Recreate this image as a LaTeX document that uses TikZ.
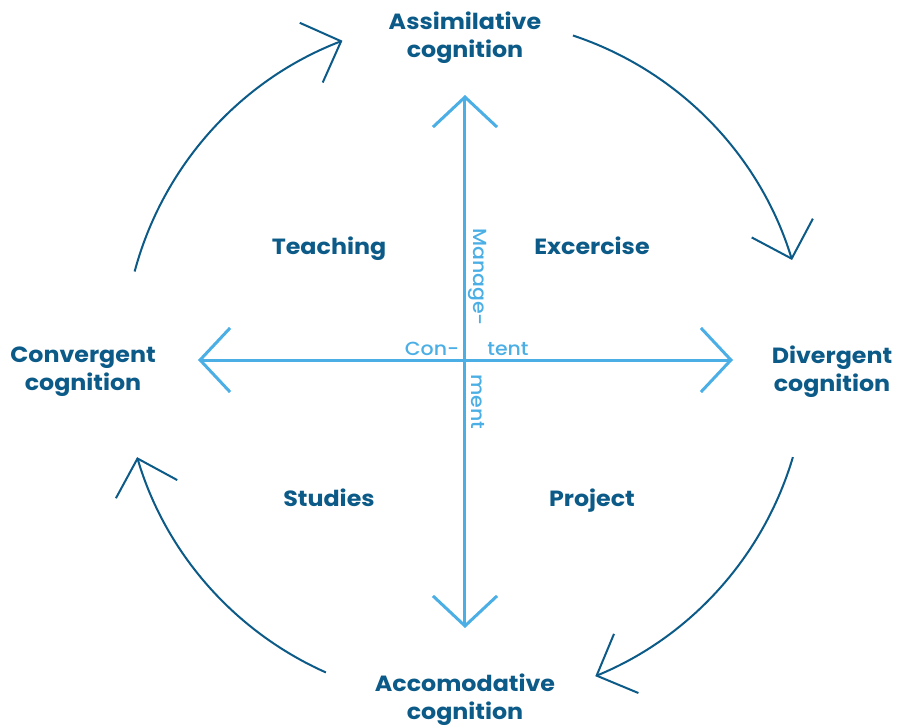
\documentclass[tikz,border=0pt]{standalone}
\usepackage{fontspec}
\setmainfont{Poppins}[FakeStretch=1.08]
\IfFontExistsTF{Poppins Medium}
  {\newfontfamily\axisfont{Poppins Medium}[FakeStretch=1.08]}
  {\newfontfamily\axisfont{Poppins}[FakeStretch=1.08]}
\usetikzlibrary{arrows.meta}
\definecolor{darkblue}{HTML}{0B5A87}
\definecolor{lightblue}{HTML}{4BAFE5}
\tikzset{
  phase/.style={font=\fontsize{22}{28}\selectfont\bfseries, text=darkblue, align=center},
  quadrant/.style={font=\fontsize{22}{24}\selectfont\bfseries, text=darkblue, anchor=base},
  axislabel/.style={font=\axisfont\fontsize{19}{20}\selectfont, text=lightblue, inner sep=0pt},
  cyclearrow/.style={draw=darkblue, line width=2pt, -{Straight Barb[length=32pt,width=64pt]}},
  axisline/.style={draw=lightblue, line width=3pt, -{Straight Barb[length=30pt,width=64pt]}}
}
\begin{document}
\begin{tikzpicture}[x=1pt,y=1pt]
\useasboundingbox (-465,-366) rectangle (432,360);
\coordinate (center) at (0,0);

%axes
\coordinate (top) at (0,265);
\coordinate (bottom) at (0,-268);
\coordinate (left) at (-267,0);
\coordinate (right) at (268,0);
\draw[axisline] (center) -- (top);
\draw[axisline] (center) -- (bottom);
\draw[axisline] (center) -- (left);
\draw[axisline] (center) -- (right);
\node[axislabel] (con) at (-33,11) {Con-};
\node[axislabel] (tent) at (43,11) {tent};
\node[axislabel,rotate=-90] (manage) at (13,83) {Manage-};
\node[axislabel,rotate=-90] (ment) at (13,-42) {ment};

%cycle
\draw[cyclearrow] (165:342) arc[start angle=165, end angle=111, radius=342];
\draw[cyclearrow] (71.6:342) arc[start angle=71.6, end angle=17, radius=342];
\draw[cyclearrow] (-16.5:342) arc[start angle=-16.5, end angle=-67.6, radius=342];
\draw[cyclearrow] (-114:342) arc[start angle=-114, end angle=-163.5, radius=342];

%phases
\node[phase] (assimilative) at (0,322) {Assimilative\\cognition};
\node[phase] (divergent) at (367,-12) {Divergent\\cognition};
\node[phase] (accomodative) at (0,-340) {Accomodative\\cognition};
\node[phase] (convergent) at (-382,-12) {Convergent\\cognition};

%quadrants
\node[quadrant] (teaching) at (-136,106) {Teaching};
\node[quadrant] (excercise) at (127,106) {Excercise};
\node[quadrant] (studies) at (-136,-146) {Studies};
\node[quadrant] (project) at (127,-146) {Project};
\end{tikzpicture}
\end{document}
